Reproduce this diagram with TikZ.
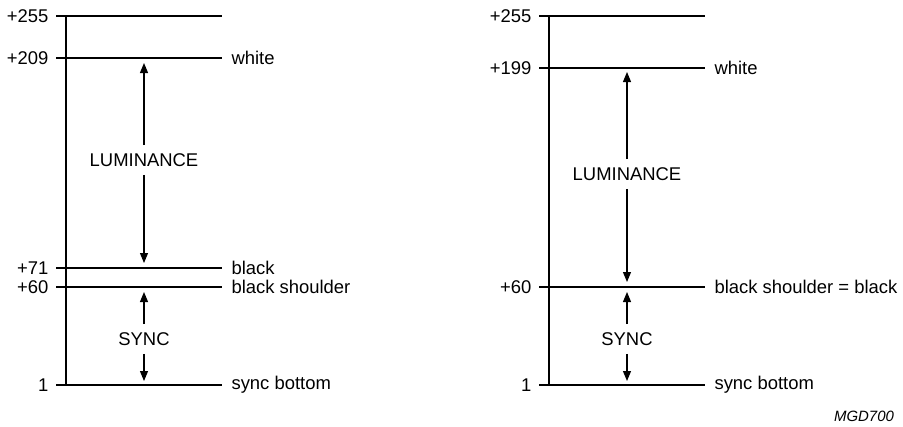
\documentclass[tikz,border=0pt]{standalone}
\usepackage{fontspec}
\setmainfont{Liberation Sans}
\usetikzlibrary{arrows.meta}

\begin{document}
\begin{tikzpicture}[x=1bp,y=-1bp,line width=1.1bp]
	\tikzstyle{vallbl}=[anchor=east,inner sep=0pt,font=\fontsize{18.5}{22}\selectfont]
	\tikzstyle{levellbl}=[anchor=west,inner sep=0pt,font=\fontsize{18.5}{22}\selectfont]
	\tikzstyle{spanlbl}=[inner xsep=0pt,inner ysep=8bp,text depth=0pt,font=\fontsize{18.5}{22}\selectfont]
	\tikzstyle{rangearrow}=[-{Triangle[length=10bp,width=8bp]}]
	\useasboundingbox (0,0) rectangle (903,426);
	
	% left scale
	\coordinate (ltop) at (66,16);
	\coordinate (lbot) at (66,385);
	\draw (ltop) -- (lbot);
	\foreach \y/\v in {16/+255, 58/+209, 268/+71, 287/+60, 385/1}{
		\node[vallbl] (lv\y) at (49,\y) {\v};
		\coordinate (ls\y) at (56,\y);
		\coordinate (le\y) at (222,\y);
		\draw (ls\y) -- (le\y);
	}
	\node[levellbl] (lwhite) at (231,58) {white};
	\node[levellbl] (lblack) at (231,268) {black};
	\node[levellbl] (lshoulder) at (231,287) {black shoulder};
	\node[levellbl] (lsync) at (231,385) {sync bottom};
	
	\node[spanlbl] (llum) at (144,160) {LUMINANCE};
	\coordinate (llumtop) at (144,63);
	\coordinate (llumbot) at (144,263);
	\draw[rangearrow] (llum) -- (llumtop);
	\draw[rangearrow] (llum) -- (llumbot);
	
	\node[spanlbl] (lsyn) at (144,339) {SYNC};
	\coordinate (lsyntop) at (144,292);
	\coordinate (lsynbot) at (144,381);
	\draw[rangearrow] (lsyn) -- (lsyntop);
	\draw[rangearrow] (lsyn) -- (lsynbot);
	
	% right scale
	\coordinate (rtop) at (549,16);
	\coordinate (rbot) at (549,385);
	\draw (rtop) -- (rbot);
	\foreach \y/\v in {16/+255, 68/+199, 287/+60, 385/1}{
		\node[vallbl] (rv\y) at (532,\y) {\v};
		\coordinate (rs\y) at (539,\y);
		\coordinate (re\y) at (705,\y);
		\draw (rs\y) -- (re\y);
	}
	\node[levellbl] (rwhite) at (714,68) {white};
	\node[levellbl] (rshoulder) at (714,287) {black shoulder = black};
	\node[levellbl] (rsync) at (714,385) {sync bottom};
	
	\node[spanlbl] (rlum) at (627,174) {LUMINANCE};
	\coordinate (rlumtop) at (627,72);
	\coordinate (rlumbot) at (627,282);
	\draw[rangearrow] (rlum) -- (rlumtop);
	\draw[rangearrow] (rlum) -- (rlumbot);
	
	\node[spanlbl] (rsyn) at (627,339) {SYNC};
	\coordinate (rsyntop) at (627,292);
	\coordinate (rsynbot) at (627,381);
	\draw[rangearrow] (rsyn) -- (rsyntop);
	\draw[rangearrow] (rsyn) -- (rsynbot);
	
	\node[font=\fontsize{15}{18}\selectfont\itshape,inner sep=0pt] (tag) at (864,416) {MGD700};
\end{tikzpicture}
\end{document}
